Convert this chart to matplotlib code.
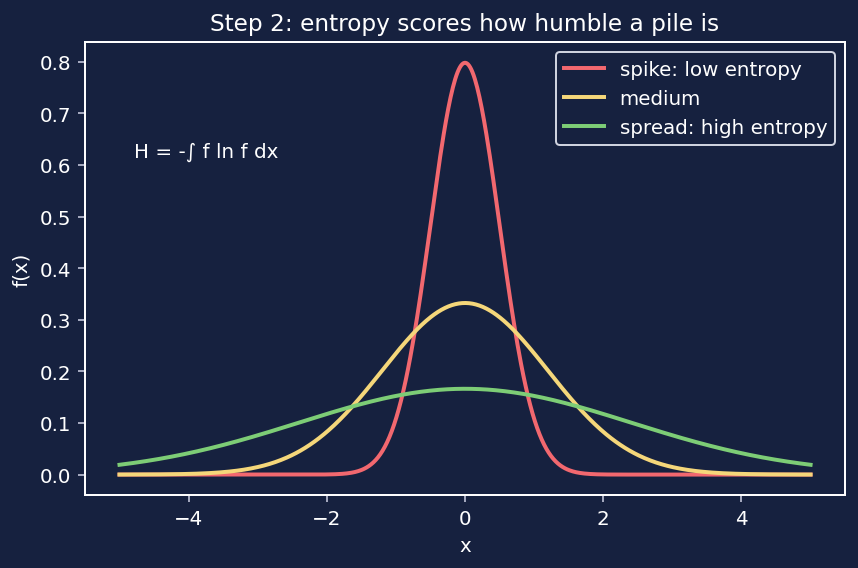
import numpy as np
import matplotlib
matplotlib.use("Agg")
import matplotlib.pyplot as plt

# widths of the three piles (read from the peak heights)
labels = ['spike: low entropy', 'medium', 'spread: high entropy']
sigmas = [0.5, 1.2, 2.4]
colors = ['#f2686f', '#f5d77a', '#7dcd76']

x_min, x_max = -5, 5

bg = '#16213f'
fg = '#ffffff'

fig, ax = plt.subplots(figsize=(6, 3.979), dpi=143)
fig.patch.set_facecolor(bg)
ax.set_facecolor(bg)

x = np.linspace(x_min, x_max, 600)
for lab, s, c in zip(labels, sigmas, colors):
    y = np.exp(-0.5 * (x / s) ** 2) / (s * np.sqrt(2 * np.pi))
    ax.plot(x, y, color=c, lw=2, label=lab)

ax.text(0.065, 0.76, 'H = -\u222b f ln f dx', transform=ax.transAxes,
        color=fg, fontsize=10, va='center')

ax.set_title('Step 2: entropy scores how humble a pile is', color=fg, fontsize=11.7)
ax.set_xlabel('x', color=fg, fontsize=10)
ax.set_ylabel('f(x)', color=fg, fontsize=10)
ax.tick_params(color='#c8cce0', labelcolor=fg, labelsize=10)
for sp in ax.spines.values():
    sp.set_color(fg)
    sp.set_linewidth(1.0)

leg = ax.legend(loc='upper right', facecolor=bg, edgecolor='#d0d4e0', labelcolor=fg, fontsize=10)
leg.get_frame().set_alpha(1)

fig.subplots_adjust(left=0.099, right=0.985, top=0.924, bottom=0.128)
plt.savefig('out.png', facecolor=bg)
